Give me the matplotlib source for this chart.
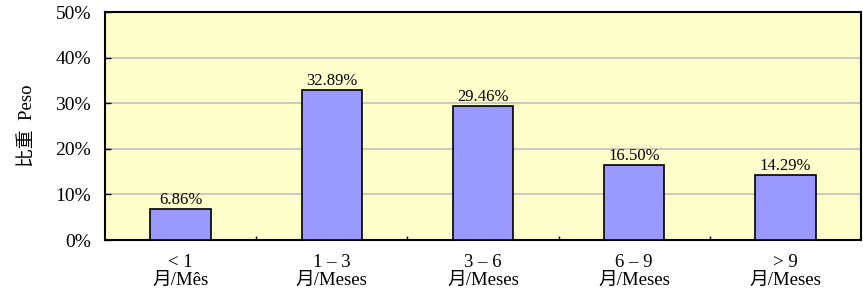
import numpy as np
import matplotlib.pyplot as plt

plt.rcParams['font.family'] = ['Liberation Serif', 'Noto Sans CJK TC']

categories = ['< 1\n月/Mês', '1 – 3\n月/Meses', '3 – 6\n月/Meses', '6 – 9\n月/Meses', '> 9\n月/Meses']
values = [6.86, 32.89, 29.46, 16.50, 14.29]
yticks = [0, 10, 20, 30, 40, 50]

fig = plt.figure(figsize=(8.63, 2.96), dpi=100)
ax = fig.add_axes([0.1217, 0.189, 0.876, 0.7703])
ax.set_facecolor('#FFFFCC')

x = np.arange(len(categories))
ax.bar(x, values, width=0.4, color='#9999FF', edgecolor='black', linewidth=1.2, zorder=3)
for xi, v in zip(x, values):
    ax.text(xi, v + 0.2, '%.2f%%' % v, ha='center', va='bottom', fontsize=12, zorder=4)

ax.set_xlim(-0.5, len(categories) - 0.5)
ax.set_ylim(0, 50)
ax.set_yticks(yticks)
ax.set_yticklabels(['%d%%' % t for t in yticks], fontsize=14)
ax.yaxis.grid(True, color='#C0C0C0', linewidth=1.2, zorder=1)
ax.tick_params(axis='y', direction='in', length=4, width=1, pad=10)

ax.set_xticks(x)
ax.set_xticklabels(categories, fontsize=13.5, linespacing=1.05)
ax.tick_params(axis='x', length=0, pad=10)
ax.set_xticks(np.arange(0.5, len(categories) - 1, 1), minor=True)
ax.tick_params(axis='x', which='minor', direction='in', length=3, width=1)

for s in ax.spines.values():
    s.set_linewidth(1.5)

ax.set_ylabel('比重  Peso', fontsize=13.5, labelpad=14)

fig.savefig('out.png', dpi=100)
